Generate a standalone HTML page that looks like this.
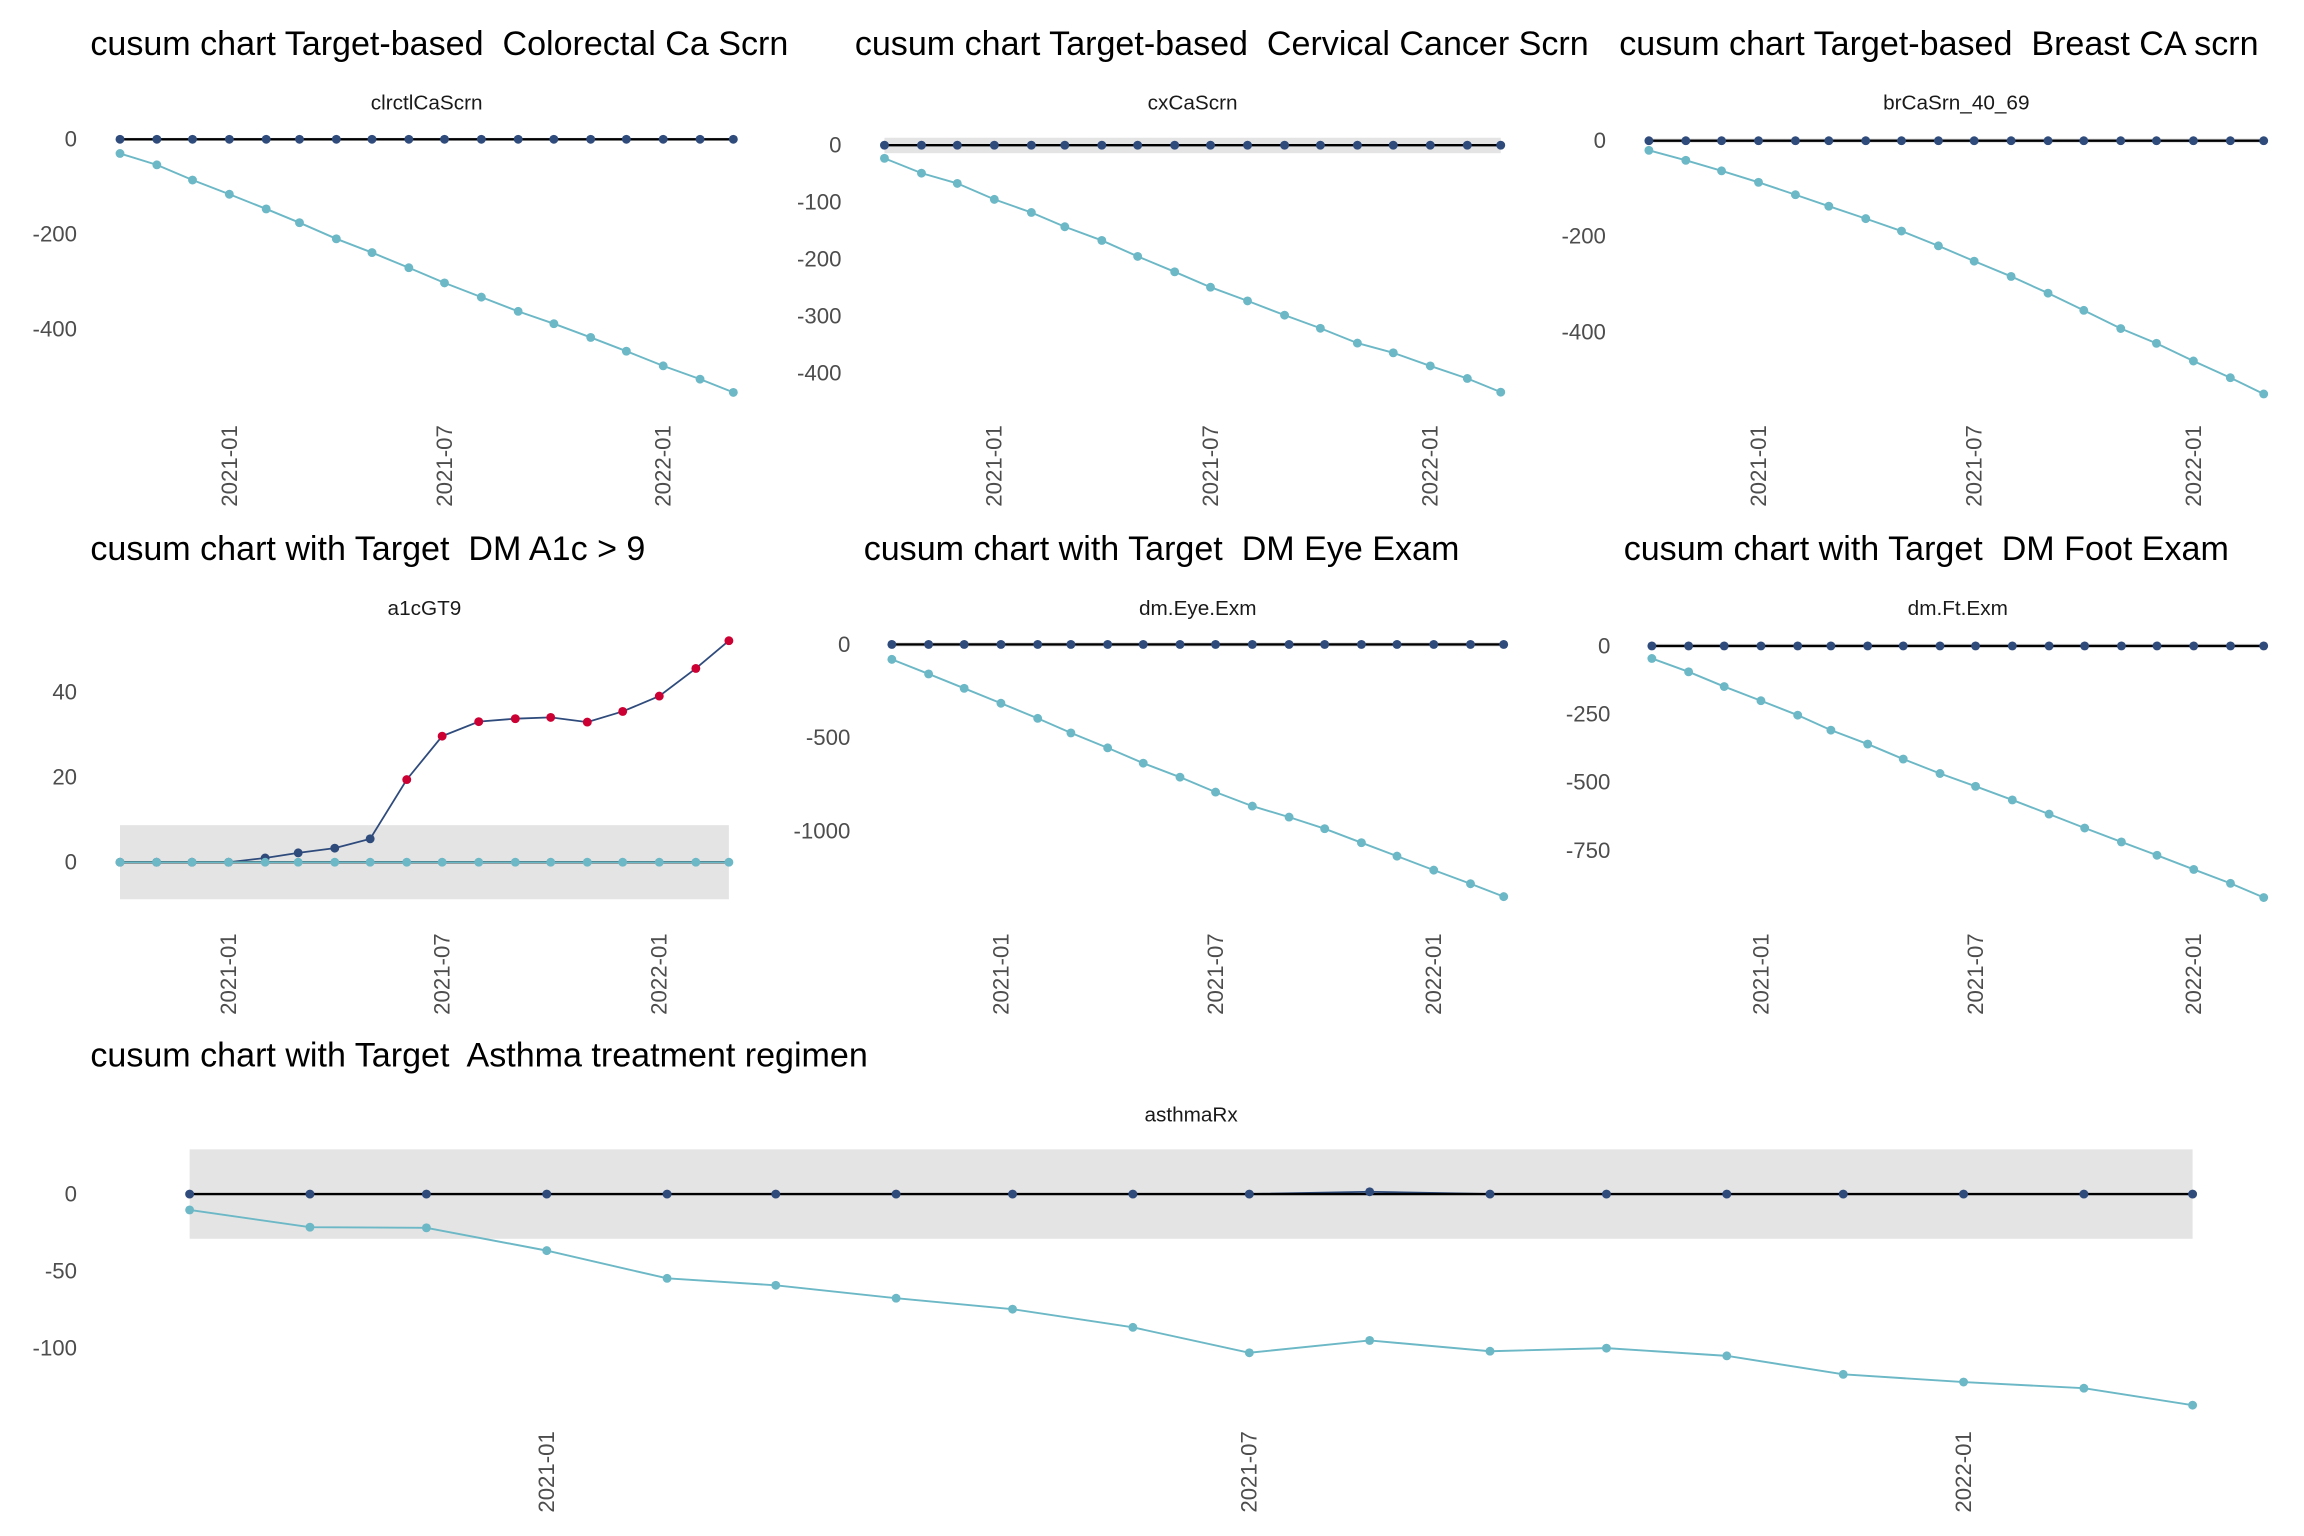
<!DOCTYPE html>
<html><head><meta charset="utf-8">
<style>
html,body{margin:0;padding:0;background:#fff;}
svg{display:block;}
text{font-family:"Liberation Sans",Arial,sans-serif;white-space:pre;}
</style></head>
<body>
<svg id="chart" xmlns="http://www.w3.org/2000/svg" width="2304" height="1536" viewBox="0 0 1555.2 1036.8" xml:space="preserve"></svg>
<script>
// ---- data ----
const months = ["2020-10","2020-11","2020-12","2021-01","2021-02","2021-03","2021-04","2021-05","2021-06","2021-07","2021-08","2021-09","2021-10","2021-11","2021-12","2022-01","2022-02","2022-03"];
const xTickLabels = ["2021-01","2021-07","2022-01"];

const clrctlLow = [-30,-54,-86,-116,-147,-176,-210,-239,-271,-303,-333,-363,-389,-418,-447,-478,-506,-534];
const clrctlHigh = [0,0,0,0,0,0,0,0,0,0,0,0,0,0,0,0,0,0];
const clrctlTicks = [0,-200,-400];

const cxLow = [-23,-49,-67,-95,-118,-143,-167,-195,-222,-249,-273,-298,-321,-347,-364,-387,-409,-433];
const cxHigh = [0,0,0,0,0,0,0,0,0,0,0,0,0,0,0,0,0,0];
const cxTicks = [0,-100,-200,-300,-400];

const brLow = [-20,-41,-63,-87,-113,-137,-163,-189,-220,-252,-284,-319,-355,-393,-424,-461,-496,-530];
const brHigh = [0,0,0,0,0,0,0,0,0,0,0,0,0,0,0,0,0,0];
const brTicks = [0,-200,-400];

const a1cLow = [0,0,0,0,0,0,0,0,0,0,0,0,0,0,0,0,0,0];
const a1cHigh = [0,0,0,0,1,2.2,3.3,5.5,19.4,29.6,33,33.7,34,32.9,35.4,39,45.5,52];
const a1cTicks = [0,20,40];

const eyeLow = [-80,-158,-235,-315,-396,-474,-554,-636,-711,-791,-866,-925,-987,-1062,-1134,-1209,-1282,-1351];
const eyeHigh = [0,0,0,0,0,0,0,0,0,0,0,0,0,0,0,0,0,0];
const eyeTicks = [0,-500,-1000];

const ftLow = [-46,-95,-149,-201,-254,-309,-360,-415,-468,-515,-565,-617,-668,-719,-768,-820,-871,-923];
const ftHigh = [0,0,0,0,0,0,0,0,0,0,0,0,0,0,0,0,0,0];
const ftTicks = [0,-250,-500,-750];

const asthmaLow = [-10.3,-21.5,-21.9,-36.7,-54.7,-59.2,-67.6,-74.7,-86.5,-103,-95,-102,-100,-105,-117,-122,-126,-137];
const asthmaHigh = [0,0,0,0,0,0,0,0,0,0,1.5,0,0,0,0,0,0,0];
const asthmaTicks = [0,-50,-100];

// ---- layout (not data) ----
const panels = [
 {id:"clrctl",title:"cusum chart Target-based  Colorectal Ca Scrn",sub:"clrctlCaScrn",low:clrctlLow,high:clrctlHigh,ticks:clrctlTicks,band:[3,-3],
  x0:81,x1:495,tx:61,ty:37,sy:69,lab:52,yA:[0,94],yB:[-400,222],xlabTop:287},
 {id:"cx",title:"cusum chart Target-based  Cervical Cancer Scrn",sub:"cxCaScrn",low:cxLow,high:cxHigh,ticks:cxTicks,band:[13,-14],
  x0:597,x1:1013,tx:577,ty:37,sy:69,lab:568,yA:[0,98],yB:[-400,252],xlabTop:287},
 {id:"br",title:"cusum chart Target-based  Breast CA scrn",sub:"brCaSrn_40_69",low:brLow,high:brHigh,ticks:brTicks,band:[5,-5],
  x0:1113,x1:1528,tx:1093,ty:37,sy:69,lab:1084,yA:[0,95],yB:[-400,224],xlabTop:287},
 {id:"a1c",title:"cusum chart with Target  DM A1c > 9",sub:"a1cGT9",low:a1cLow,high:a1cHigh,ticks:a1cTicks,band:[8.7,-8.7],red:true,
  x0:81,x1:492,tx:61,ty:378,sy:410,lab:52,yA:[0,582],yB:[40,467],xlabTop:630},
 {id:"eye",title:"cusum chart with Target  DM Eye Exam",sub:"dm.Eye.Exm",low:eyeLow,high:eyeHigh,ticks:eyeTicks,band:[12,-12],
  x0:602,x1:1015,tx:583,ty:378,sy:410,lab:574,yA:[0,435],yB:[-1000,561],xlabTop:630},
 {id:"ft",title:"cusum chart with Target  DM Foot Exam",sub:"dm.Ft.Exm",low:ftLow,high:ftHigh,ticks:ftTicks,band:[8,-8],
  x0:1115,x1:1528,tx:1096,ty:378,sy:410,lab:1087,yA:[0,436],yB:[-750,574],xlabTop:630},
 {id:"asthma",title:"cusum chart with Target  Asthma treatment regimen",sub:"asthmaRx",low:asthmaLow,high:asthmaHigh,ticks:asthmaTicks,band:[29,-29],
  x0:128,x1:1480,tx:61,ty:720,sy:752,lab:52,yA:[0,806],yB:[-100,910],xlabTop:966}
];

const NS="http://www.w3.org/2000/svg";
const svg=document.getElementById("chart");
function mk(tag,attrs,parent){const e=document.createElementNS(NS,tag);for(const k in attrs)e.setAttribute(k,attrs[k]);(parent||svg).appendChild(e);return e;}
function toT(m){const [y,mo]=m.split("-").map(Number);return Date.UTC(y,mo-1,1);}

panels.forEach(p=>{
  const g=mk("g",{});
  
  
  const t0=toT(months[0]),t1=toT(months[months.length-1]);
  const xS=m=>p.x0+(toT(m)-t0)/(t1-t0)*(p.x1-p.x0);
  const k=(p.yB[1]-p.yA[1])/(p.yB[0]-p.yA[0]);
  const yS=v=>p.yA[1]+(v-p.yA[0])*k;

  const title=mk("text",{x:p.tx,y:p.ty,"font-size":23,fill:"#000"},g);
  title.textContent=p.title;
  
  
  const sub=mk("text",{x:(p.x0+p.x1)/2,y:p.sy+5,"font-size":14,fill:"#1a1a1a","text-anchor":"middle"},g);
  sub.textContent=p.sub;
  
  

  p.ticks.forEach(v=>{
    const tl=mk("text",{x:p.lab,y:yS(v)+5,"font-size":15,fill:"#4d4d4d","text-anchor":"end"},g);
    tl.textContent=String(v);
    
    
  });
  xTickLabels.forEach(lbl=>{
    const x=xS(lbl);
    const tl=mk("text",{x:0,y:0,"font-size":15,fill:"#4d4d4d","text-anchor":"end",transform:`translate(${x+5},${p.xlabTop}) rotate(-90)`},g);
    tl.textContent=lbl;
    
    
  });

  const band=mk("rect",{x:p.x0,y:yS(p.band[0]),width:p.x1-p.x0,height:yS(p.band[1])-yS(p.band[0]),fill:"#e4e4e4"},g);
  
  

  const hp=p.high.map((v,i)=>xS(months[i]).toFixed(2)+","+yS(v).toFixed(2)).join(" ");
  const hl=mk("polyline",{points:hp,fill:"none",stroke:"#2f4b7c","stroke-width":1.2},g);
  
  
  const tgt=mk("line",{x1:p.x0,x2:p.x1,y1:yS(0),y2:yS(0),stroke:"#000","stroke-width":1.6},g);
  
  
  p.high.forEach((v,i)=>{
    const out=p.red&&v>p.band[0];
    const c=mk("circle",{cx:xS(months[i]),cy:yS(v),r:3,fill:out?"#cc0033":"#2f4b7c"},g);
    
    
  });
  const lp=p.low.map((v,i)=>xS(months[i]).toFixed(2)+","+yS(v).toFixed(2)).join(" ");
  const ll=mk("polyline",{points:lp,fill:"none",stroke:"#6cb8c6","stroke-width":1.3},g);
  
  
  p.low.forEach((v,i)=>{
    const c=mk("circle",{cx:xS(months[i]),cy:yS(v),r:3,fill:"#6cb8c6"},g);
    
    
  });
});
</script>
</body></html>
